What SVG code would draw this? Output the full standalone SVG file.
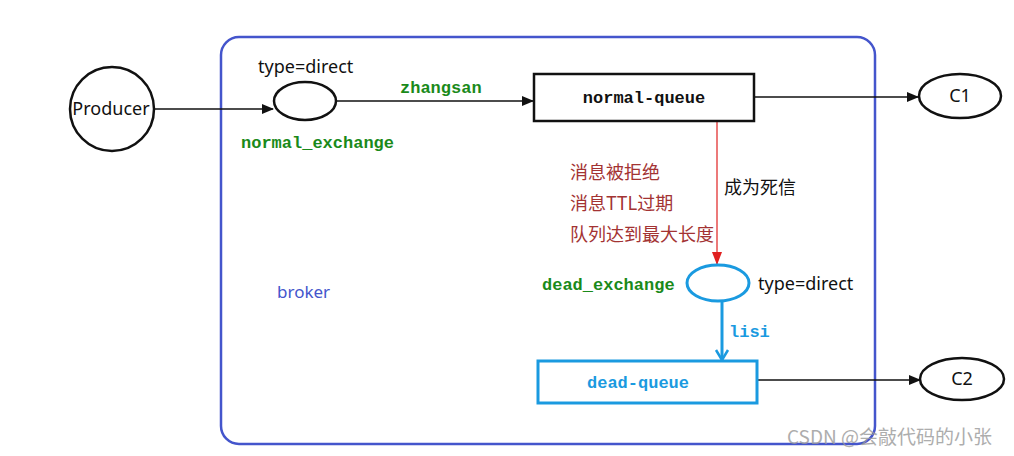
<svg xmlns="http://www.w3.org/2000/svg" width="1014" height="456" viewBox="0 0 1014 456">
<style>
.sans{font-family:"Noto Sans","Liberation Sans","Noto Sans CJK SC",sans-serif;font-size:18px;fill:#111}
.mono{font-family:"Liberation Mono","DejaVu Sans Mono",monospace;font-size:17px;font-weight:bold}
.green{fill:#1a8a1a}
.blue{fill:#1a9ae0}
.cn{font-family:"Noto Sans CJK SC","Liberation Sans",sans-serif;font-size:18px;fill:#a33333}
.line{stroke:#111;stroke-width:1.3;fill:none}
.node{fill:#fff;stroke:#111;stroke-width:2.5}
</style>
<defs>
<marker id="ah" markerWidth="12" markerHeight="10" refX="11" refY="5" orient="auto" markerUnits="userSpaceOnUse"><path d="M0,0 L12,5 L0,10 Z" fill="#111"/></marker>
</defs>
<rect width="1014" height="456" fill="#fff"/>
<g id="broker">
<rect x="221" y="37" width="654" height="407" rx="18" fill="none" stroke="#4455cc" stroke-width="2.5"/>
<text x="277" y="298" class="sans" style="fill:#4455cc;font-size:17px">broker</text>
</g>
<g id="connectors">
<line x1="155" y1="109" x2="273" y2="109" class="line" marker-end="url(#ah)"/>
<line x1="337" y1="101" x2="533" y2="101" class="line" marker-end="url(#ah)"/>
<line x1="754" y1="97" x2="918" y2="97" class="line" marker-end="url(#ah)"/>
<line x1="717" y1="121" x2="717" y2="265" stroke="#e02020" stroke-width="1.2"/>
<path d="M712,252 L717,265 L722,252 Z" fill="#e02020"/>
<line x1="722" y1="302" x2="722" y2="360" stroke="#1a9ae0" stroke-width="3"/>
<path d="M716,350 L722,360 L728,350" fill="none" stroke="#1a9ae0" stroke-width="2.5"/>
<line x1="757" y1="380" x2="920" y2="380" class="line" marker-end="url(#ah)"/>
<text x="400" y="93" class="mono green">zhangsan</text>
<text x="724" y="194" class="sans" style="font-family:'Noto Sans CJK SC',sans-serif">成为死信</text>
<text x="729" y="337" class="mono blue">lisi</text>
</g>
<g id="producer">
<circle cx="112" cy="109" r="42" class="node"/>
<text x="111" y="115" class="sans" text-anchor="middle">Producer</text>
</g>
<g id="normal_exchange">
<ellipse cx="305" cy="101" rx="31" ry="19" class="node"/>
<text x="258" y="73" class="sans">type=direct</text>
<text x="241" y="148" class="mono green">normal_exchange</text>
</g>
<g id="normal_queue">
<rect x="534" y="74" width="220" height="47" class="node" stroke-width="3"/>
<text x="644" y="103" class="mono" text-anchor="middle" fill="#111">normal-queue</text>
</g>
<g id="c1">
<ellipse cx="960" cy="96" rx="41" ry="22" class="node"/>
<text x="960" y="102" class="sans" text-anchor="middle">C1</text>
</g>
<g id="reasons">
<text x="570" y="179" class="cn">消息被拒绝</text>
<text x="570" y="210" class="cn">消息TTL过期</text>
<text x="570" y="241" class="cn">队列达到最大长度</text>
</g>
<g id="dead_exchange">
<ellipse cx="718" cy="283" rx="31" ry="18" fill="#fff" stroke="#1a9ae0" stroke-width="3"/>
<text x="542" y="290" class="mono green">dead_exchange</text>
<text x="758" y="290" class="sans">type=direct</text>
</g>
<g id="dead_queue">
<rect x="538" y="361" width="219" height="42" fill="#fff" stroke="#1a9ae0" stroke-width="3"/>
<text x="638" y="388" class="mono blue" text-anchor="middle">dead-queue</text>
</g>
<g id="c2">
<ellipse cx="962" cy="379" rx="42" ry="21" class="node"/>
<text x="962" y="385" class="sans" text-anchor="middle">C2</text>
</g>
<text x="787" y="444" style="font-family:'Noto Sans CJK SC','Liberation Sans',sans-serif;font-size:19px;fill:#999;opacity:0.8">CSDN @会敲代码的小张</text>
</svg>
